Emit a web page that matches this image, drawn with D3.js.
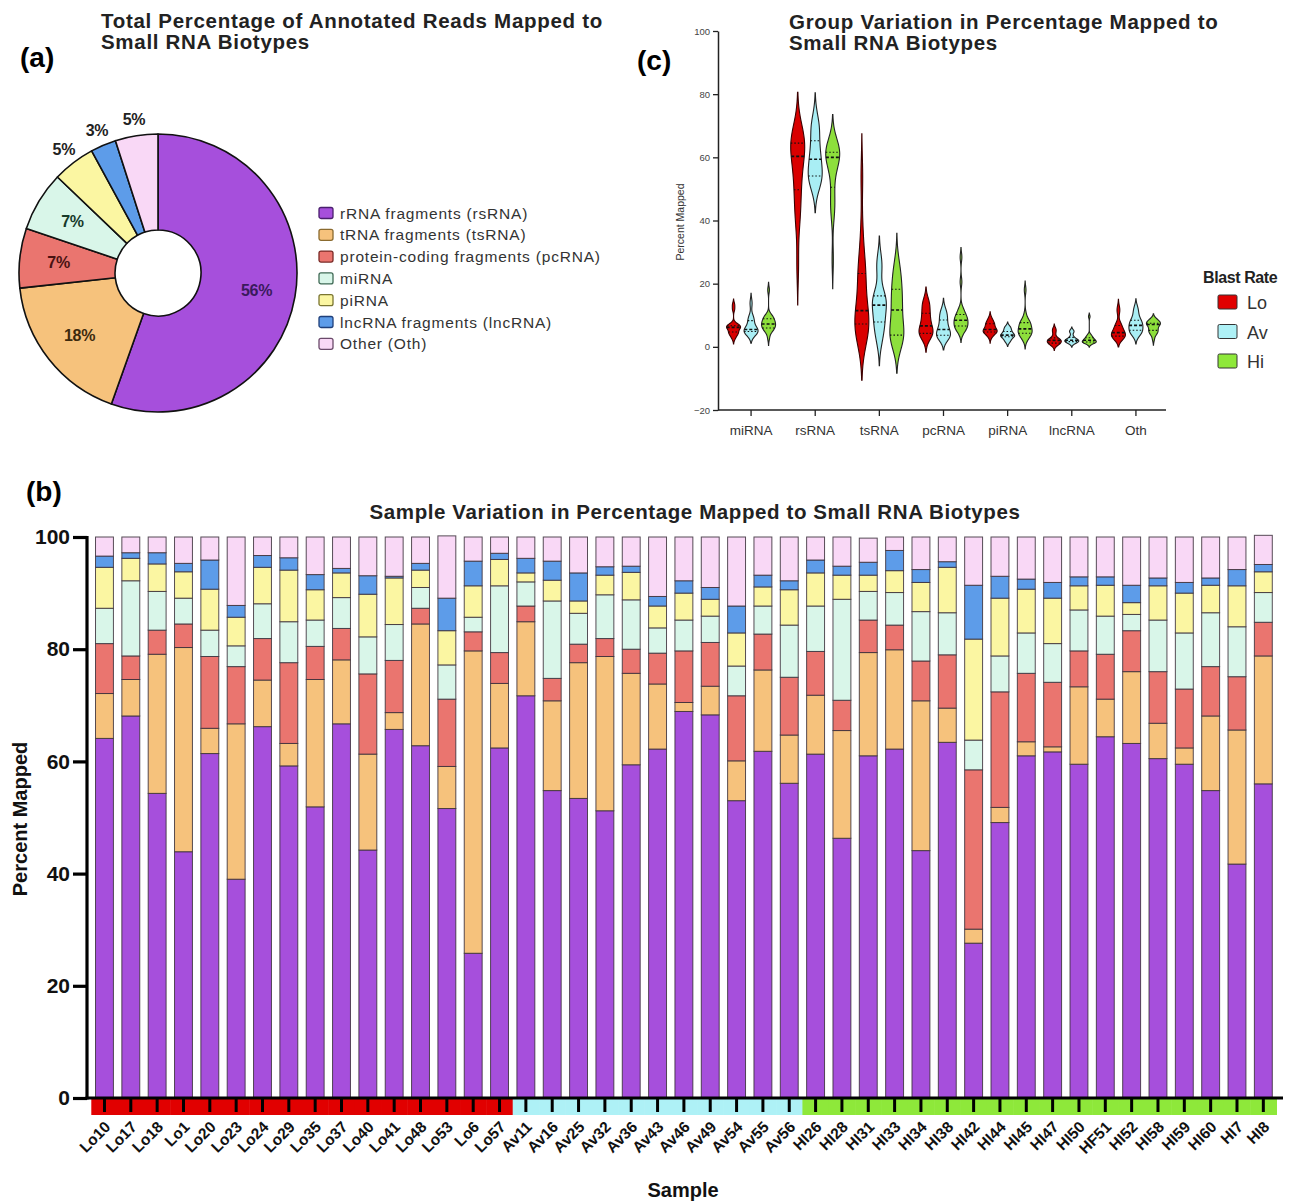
<!DOCTYPE html>
<html>
<head>
<meta charset="utf-8">
<script src="https://cdn.jsdelivr.net/npm/d3@7"></script>
<style>
  body { margin: 0; background: #fff; }
  svg { display: block; }
  text { font-family: "Liberation Sans", Arial, Helvetica, sans-serif; }
</style>
</head>
<body>
<svg id="fig" width="1299" height="1202"></svg>
<script>
// ---------------- data ----------------
const biotypes = ["rsRNA", "tsRNA", "pcRNA", "miRNA", "piRNA", "lncRNA", "Oth"];
const biotypeColors = ["#a64fdc", "#f6c27c", "#ea756f", "#d9f6e9", "#fbf6a2", "#5d9ce9", "#f9d8f6"];
const biotypeStrokes = ["#4a1f6e", "#8a6a2e", "#7a2a26", "#3f6a55", "#7a7530", "#1f3f7a", "#6a4a6a"];

// (a) overall share of annotated reads
const pieLabels = ["rRNA fragments (rsRNA)", "tRNA fragments (tsRNA)", "protein-coding fragments (pcRNA)",
                   "miRNA", "piRNA", "lncRNA fragments (lncRNA)", "Other (Oth)"];
const pieValues = [56, 18, 7, 7, 5, 3, 5];
const pieTextColors = ["#3a1a5c", "#3d2a0e", "#4a1212", "#173a2a", "#222", "#222", "#222"];

// (b) per-sample composition
const samples = ["Lo10","Lo17","Lo18","Lo1","Lo20","Lo23","Lo24","Lo29","Lo35","Lo37","Lo40","Lo41","Lo48","Lo53","Lo6","Lo57",
                 "Av11","Av16","Av25","Av32","Av36","Av43","Av46","Av49","Av54","Av55","Av56",
                 "HI26","HI28","HI31","HI33","HI34","HI38","HI42","HI44","HI45","HI47","HI50","HF51","HI52","HI58","HI59","HI60","HI7","HI8"];
const rsRNA  = [64.1,68.1,54.3,43.9,61.4,39.0,66.2,59.2,51.9,66.7,44.2,65.7,62.8,51.6,25.8,62.4,
                71.7,54.8,53.4,51.2,59.4,62.2,68.9,68.3,53.0,61.8,56.1,
                61.3,46.3,61.0,62.2,44.1,63.4,27.6,49.1,61.0,61.7,59.5,64.4,63.2,60.5,59.5,54.8,41.7,56.0];
const tsRNA  = [8.0,6.5,24.8,36.4,4.5,27.7,8.3,4.0,22.7,11.4,17.1,3.0,21.7,7.5,53.9,11.5,
                13.2,16.0,24.2,27.5,16.3,11.6,1.6,5.1,7.1,14.5,8.6,
                10.5,19.2,18.4,17.7,26.7,6.1,2.5,2.7,2.5,0.9,13.8,6.7,12.8,6.3,2.9,13.3,23.9,22.8];
const pcRNA  = [8.9,4.2,4.3,4.2,12.8,10.2,7.4,14.4,5.9,5.6,14.3,9.3,2.8,12.0,3.4,5.5,
                2.8,4.0,3.3,3.2,4.3,5.5,9.2,7.8,11.6,6.4,10.3,
                7.8,5.4,5.8,4.4,7.1,9.5,28.4,20.6,12.2,11.5,6.4,8.0,7.3,9.2,10.5,8.8,9.5,6.0];
const miRNA  = [6.3,13.4,6.9,4.6,4.7,3.7,6.2,7.3,4.7,5.5,6.6,6.4,3.7,6.1,2.6,11.9,
                4.3,13.8,5.5,7.8,8.8,4.5,5.5,4.7,5.3,5.0,9.3,
                8.1,18.0,5.1,5.8,8.8,7.5,5.3,6.4,7.2,6.9,7.3,6.8,2.9,9.2,10.0,9.6,8.9,5.3];
const piRNA  = [7.3,4.0,4.9,4.7,7.3,5.1,6.5,9.2,5.4,4.4,7.6,8.3,3.1,6.1,5.6,4.7,
                1.6,3.7,2.2,3.5,4.9,3.9,4.8,3.0,5.9,3.4,6.3,
                5.9,4.3,2.9,3.9,5.2,8.1,18.0,10.3,7.8,8.1,4.3,5.5,2.1,6.1,7.1,4.9,7.3,3.7];
const lncRNA = [2.0,1.0,2.0,1.5,5.2,2.1,2.1,2.2,2.7,0.8,3.3,0.3,1.2,5.8,4.4,1.1,
                2.6,3.4,5.0,1.5,1.1,1.7,2.2,2.1,4.8,2.1,1.6,
                2.3,1.6,2.3,3.6,2.3,1.0,9.6,3.9,1.8,2.8,1.6,1.5,3.1,1.4,1.9,1.3,2.9,1.3];
const Oth    = [3.4,2.8,2.8,4.7,4.1,12.2,3.3,3.7,6.7,5.6,6.9,7.0,4.7,11.1,4.3,2.9,
                3.8,4.3,6.4,5.3,5.2,10.6,7.8,9.0,12.3,6.8,7.8,
                4.1,5.2,4.3,2.4,5.8,4.4,8.6,7.0,7.5,8.1,7.1,7.1,8.6,7.3,8.1,7.3,5.8,5.2];
const barTicks = [0, 20, 40, 60, 80, 100];

// (c) blast-rate groups
const groups = ["Lo", "Av", "Hi"];
const groupColors = ["#e10000", "#aef1f6", "#8ee83a"];
const violinFills = ["#d90000", "#a9eef4", "#8ddf3c"];
const violinCategories = ["miRNA", "rsRNA", "tsRNA", "pcRNA", "piRNA", "lncRNA", "Oth"];
const violinTicks = [-20, 0, 20, 40, 60, 80, 100];

const seriesByName = { rsRNA, tsRNA, pcRNA, miRNA, piRNA, lncRNA, Oth };
const groupOf = s => s.startsWith("Lo") ? "Lo" : s.startsWith("Av") ? "Av" : "Hi";

const svg = d3.select("#fig");

// ---------------- panel (a): donut ----------------
{
  const g = svg.append("g").attr("transform", "translate(158,273)");
  const pie = d3.pie().sort(null).value(d => d);
  const arcs = pie(pieValues);
  const arc = d3.arc().innerRadius(43).outerRadius(139);
  g.selectAll("path.slice").data(arcs).join("path")
    .attr("class", "slice")
    .attr("d", arc)
    .attr("fill", (d, i) => biotypeColors[i])
    .attr("stroke", "#111").attr("stroke-width", 1.6).attr("stroke-linejoin", "round");
  const inner = d3.arc().innerRadius(100).outerRadius(100);
  const outer = d3.arc().innerRadius(155).outerRadius(155);
  g.selectAll("text.pl").data(arcs).join("text")
    .attr("class", "pl")
    .attr("transform", d => `translate(${(d.value >= 7 ? inner : outer).centroid(d)})`)
    .attr("text-anchor", "middle").attr("dominant-baseline", "central")
    .attr("font-size", 16).attr("font-weight", "bold")
    .attr("letter-spacing", -0.3)
    .attr("fill", (d, i) => pieTextColors[i])
    .text(d => d.value + "%");

  const lg = svg.append("g").attr("transform", "translate(319,213)");
  const rows = lg.selectAll("g").data(pieLabels).join("g")
    .attr("transform", (d, i) => `translate(0,${i * 21.8})`);
  rows.append("rect").attr("x", 0).attr("y", -5.5).attr("width", 14).attr("height", 11).attr("rx", 2)
    .attr("fill", (d, i) => biotypeColors[i])
    .attr("stroke", (d, i) => biotypeStrokes[i]).attr("stroke-width", 1.3);
  rows.append("text").attr("x", 21).attr("y", 0).attr("dominant-baseline", "central")
    .attr("font-size", 15.5).attr("fill", "#333").attr("letter-spacing", 0.8)
    .text(d => d);

  svg.append("text").attr("x", 20).attr("y", 67).attr("font-size", 28).attr("font-weight", "bold").text("(a)");
  const t = svg.append("text").attr("font-size", 20.5).attr("font-weight", "bold").attr("fill", "#222")
    .attr("letter-spacing", 0.7);
  t.append("tspan").attr("x", 101).attr("y", 28).text("Total Percentage of Annotated Reads Mapped to");
  t.append("tspan").attr("x", 101).attr("y", 49).text("Small RNA Biotypes");
}

// ---------------- panel (c): violins ----------------
{
  const y = d3.scaleLinear().domain([-20, 100]).range([410, 31]);
  const xc = d3.scaleBand().domain(violinCategories).range([719, 1168]);
  const xg = d3.scalePoint().domain(groups).range([-17.5, 17.5]);

  // Gaussian kernel density with a Silverman bandwidth, plus quartiles
  function density(values) {
    const v = values.slice().sort(d3.ascending);
    const n = v.length;
    const sd = d3.deviation(v);
    const q1 = d3.quantile(v, 0.25), med = d3.quantile(v, 0.5), q3 = d3.quantile(v, 0.75);
    const spread = (q3 - q1) > 0 ? Math.min(sd, (q3 - q1) / 1.34) : sd;
    const h = 0.9 * spread * Math.pow(n, -0.2);
    const lo = v[0] - 2.2 * h, hi = v[n - 1] + 2.2 * h;
    const k = t => d3.mean(v, x => Math.exp(-0.5 * ((t - x) / h) ** 2));
    const pts = d3.range(121).map(i => { const t = lo + (hi - lo) * i / 120; return [t, k(t)]; });
    return { pts, q1, med, q3, k };
  }

  const g = svg.append("g");
  violinCategories.forEach(cat => {
    groups.forEach((grp, gi) => {
      const vals = seriesByName[cat].filter((d, i) => groupOf(samples[i]) === grp);
      const dens = density(vals);
      const maxD = d3.max(dens.pts, p => p[1]);
      const w = d3.scaleLinear().domain([0, maxD]).range([0, 7]);
      const cx = xc(cat) + xc.bandwidth() / 2 + xg(grp);
      const area = d3.area().curve(d3.curveBasis)
        .y(p => y(p[0])).x0(p => cx - w(p[1])).x1(p => cx + w(p[1]));
      g.append("path").datum(dens.pts).attr("d", area)
        .attr("fill", violinFills[gi]).attr("stroke", gi === 0 ? "#3a0000" : "#222")
        .attr("stroke-width", 1.1);
      [dens.q1, dens.med, dens.q3].forEach((q, qi) => {
        const hw = w(dens.k(q));
        g.append("line").attr("x1", cx - hw).attr("x2", cx + hw).attr("y1", y(q)).attr("y2", y(q))
          .attr("stroke", "#111").attr("stroke-width", qi === 1 ? 1.6 : 1.1)
          .attr("stroke-dasharray", qi === 1 ? "3,2" : "1.5,2");
      });
    });
  });

  const ax = svg.append("g").attr("transform", "translate(718,0)")
    .call(d3.axisLeft(y).tickValues(violinTicks).tickSize(5).tickSizeOuter(0).tickPadding(3));
  ax.select(".domain").attr("stroke", "#222").attr("stroke-width", 1.5);
  ax.selectAll(".tick line").attr("stroke", "#222").attr("stroke-width", 1.3);
  ax.selectAll(".tick text").attr("font-size", 9.5).attr("fill", "#444")
    .style("font-family", "'Liberation Sans', Arial, sans-serif");

  const bx = svg.append("g").attr("transform", "translate(0,410)")
    .call(d3.axisBottom(xc).tickSize(6).tickSizeOuter(0).tickPadding(9));
  bx.select(".domain").attr("stroke", "#222").attr("stroke-width", 1.5)
    .attr("d", "M718,0H1166");
  bx.selectAll(".tick line").attr("stroke", "#222").attr("stroke-width", 1.3);
  bx.selectAll(".tick text").attr("font-size", 13.5).attr("fill", "#333")
    .style("font-family", "'Liberation Sans', Arial, sans-serif");

  svg.append("text").attr("transform", "translate(684,222) rotate(-90)")
    .attr("text-anchor", "middle").attr("font-size", 10.5).attr("fill", "#333").text("Percent Mapped");

  // legend
  svg.append("text").attr("x", 1203).attr("y", 283).attr("font-size", 16).attr("font-weight", "bold")
    .attr("letter-spacing", -0.4).attr("fill", "#222").text("Blast Rate");
  const lg = svg.append("g").selectAll("g").data(groups).join("g")
    .attr("transform", (d, i) => `translate(1218,${302 + i * 29.5})`);
  lg.append("rect").attr("x", 0).attr("y", -7).attr("width", 19).attr("height", 14).attr("rx", 1.5)
    .attr("fill", (d, i) => groupColors[i]).attr("stroke", "#333").attr("stroke-width", 1);
  lg.append("text").attr("x", 29).attr("y", 1).attr("dominant-baseline", "central")
    .attr("font-size", 18).attr("fill", "#333").text(d => d);

  svg.append("text").attr("x", 637).attr("y", 70).attr("font-size", 28).attr("font-weight", "bold").text("(c)");
  const t = svg.append("text").attr("font-size", 20.5).attr("font-weight", "bold").attr("fill", "#222")
    .attr("letter-spacing", 0.7);
  t.append("tspan").attr("x", 789).attr("y", 29).text("Group Variation in Percentage Mapped to");
  t.append("tspan").attr("x", 789).attr("y", 50).text("Small RNA Biotypes");
}

// ---------------- panel (b): stacked bars ----------------
{
  const x = d3.scaleBand().domain(samples).range([91.3, 1276.5]).paddingInner(0.32).paddingOuter(0.16);
  const y = d3.scaleLinear().domain([0, 100]).range([1098, 537]);
  const table = samples.map((s, i) => {
    const row = { sample: s };
    biotypes.forEach(b => row[b] = seriesByName[b][i]);
    return row;
  });
  const stack = d3.stack().keys(biotypes)(table);
  const g = svg.append("g");
  stack.forEach((layer, li) => {
    g.append("g").selectAll("rect").data(layer).join("rect")
      .attr("x", d => x(d.data.sample))
      .attr("width", x.bandwidth())
      .attr("y", d => y(d[1]))
      .attr("height", d => Math.max(0, y(d[0]) - y(d[1])))
      .attr("fill", biotypeColors[li])
      .attr("stroke", "#3a2f3a").attr("stroke-width", 1).attr("stroke-opacity", 0.85);
  });

  // group strip under the axis
  const strip = svg.append("g");
  samples.forEach(s => {
    strip.append("rect").attr("x", x(s) - x.step() * x.paddingInner() / 2).attr("y", 1099)
      .attr("width", x.step() + 0.5).attr("height", 16)
      .attr("fill", groupColors[groups.indexOf(groupOf(s))]);
  });

  const ax = svg.append("g").attr("transform", "translate(87,0)")
    .call(d3.axisLeft(y).tickValues(barTicks).tickSize(14).tickSizeOuter(0).tickPadding(3));
  ax.select(".domain").attr("stroke", "#000").attr("stroke-width", 3.2).attr("d", "M0,536V1099.5");
  ax.selectAll(".tick line").attr("stroke", "#000").attr("stroke-width", 3.2);
  ax.selectAll(".tick text").attr("font-size", 21).attr("font-weight", "bold").attr("fill", "#111")
    .style("font-family", "'Liberation Sans', Arial, sans-serif");

  const bx = svg.append("g").attr("transform", "translate(0,1098)")
    .call(d3.axisBottom(x).tickSize(14).tickSizeOuter(0).tickFormat(""));
  bx.select(".domain").attr("stroke", "#000").attr("stroke-width", 3.2).attr("d", "M85.5,0H1283");
  bx.selectAll(".tick line").attr("stroke", "#000").attr("stroke-width", 3);

  svg.append("g").selectAll("text").data(samples).join("text")
    .attr("transform", d => `translate(${x(d) + x.bandwidth() / 2 + 7},${1128}) rotate(-45)`)
    .attr("text-anchor", "end").attr("font-size", 15.5).attr("font-weight", "bold").attr("fill", "#111")
    .text(d => d);

  svg.append("text").attr("transform", "translate(27,819) rotate(-90)").attr("text-anchor", "middle")
    .attr("font-size", 20).attr("font-weight", "bold").attr("fill", "#111").text("Percent Mapped");
  svg.append("text").attr("x", 683).attr("y", 1197).attr("text-anchor", "middle")
    .attr("font-size", 20).attr("font-weight", "bold").attr("fill", "#111").text("Sample");
  svg.append("text").attr("x", 695).attr("y", 519).attr("text-anchor", "middle")
    .attr("font-size", 20.5).attr("font-weight", "bold").attr("fill", "#222").attr("letter-spacing", 0.6)
    .text("Sample Variation in Percentage Mapped to Small RNA Biotypes");
  svg.append("text").attr("x", 26).attr("y", 501).attr("font-size", 28).attr("font-weight", "bold").text("(b)");
}
</script>
</body>
</html>
